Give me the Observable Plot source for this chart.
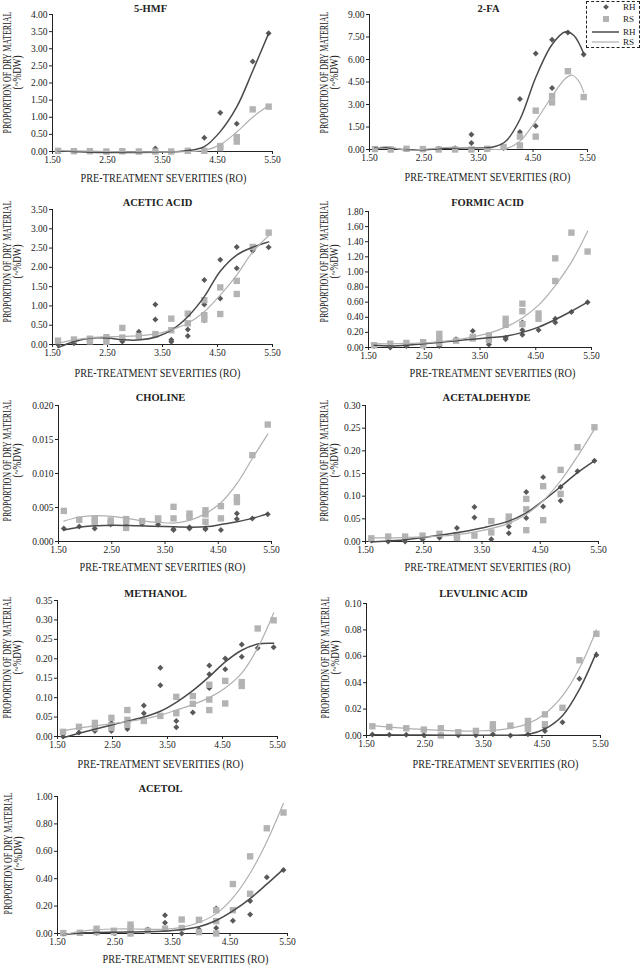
<!DOCTYPE html>
<html><head><meta charset="utf-8">
<script src="https://cdn.jsdelivr.net/npm/d3@7"></script>
<script src="https://cdn.jsdelivr.net/npm/@observablehq/plot@0.6"></script>
<style>
body{margin:0;background:#fff;font-family:"Liberation Serif",serif;}
#wrap{position:relative;width:640px;height:965px;overflow:hidden;}
.panel{position:absolute;}
#legend{position:absolute;left:586px;top:1px;width:54px;height:47px;border:1px dashed #222;box-sizing:border-box;background:#fff;}
</style></head><body><div id="wrap"></div>
<script>
// ---- data: [pre-treatment severity, proportion of dry material] ----
const xTicks = [1.5, 2.5, 3.5, 4.5, 5.5];
const legendLabels = ["RH", "RS", "RH", "RS"];
const titles = ["5-HMF","2-FA","ACETIC ACID","FORMIC ACID","CHOLINE","ACETALDEHYDE","METHANOL","LEVULINIC ACID","ACETOL"];
const xTitle = "PRE-TREATMENT SEVERITIES (RO)";
const yTitle1 = "PROPORTION OF DRY MATERIAL";
const yTitle2 = "(~%DW)";

const hmfRH = [[1.60,0.01],[1.89,0.00],[2.18,0.00],[2.48,0.00],[2.77,0.00],[3.07,0.01],[3.37,0.09],[3.66,0.00],[3.96,0.02],[4.26,0.40],[4.55,1.13],[4.85,0.81],[5.14,2.63],[5.43,3.45]];
const hmfRS = [[1.60,0.02],[1.89,0.01],[2.18,0.01],[2.48,0.00],[2.77,0.01],[3.07,0.00],[3.37,0.00],[3.66,0.00],[3.96,0.02],[4.26,0.02],[4.55,0.16],[4.55,0.10],[4.85,0.42],[4.85,0.29],[5.14,1.23],[5.43,1.31]];
const hmfRHfit = [[1.60,0.02],[2.2,-0.02],[2.8,-0.03],[3.4,-0.02],[3.8,0.0],[4.1,0.06],[4.26,0.14],[4.55,0.58],[4.85,1.3],[5.14,2.35],[5.43,3.45]];
const hmfRSfit = [[1.60,0.03],[2.5,0.0],[3.5,-0.01],[4.0,0.0],[4.26,0.03],[4.55,0.2],[4.85,0.57],[5.14,1.0],[5.43,1.34]];

const faRH = [[1.60,0.02],[1.89,0.00],[2.18,0.02],[2.48,0.00],[2.77,0.05],[3.07,0.08],[3.37,1.0],[3.37,0.44],[3.66,0.02],[3.96,0.1],[4.26,3.36],[4.26,1.17],[4.55,6.4],[4.55,1.56],[4.85,7.32],[4.85,4.1],[5.14,7.8],[5.43,6.33]];
const faRS = [[1.60,0.03],[1.89,0.0],[2.18,0.05],[2.48,0.03],[2.77,0.0],[3.07,0.0],[3.37,0.0],[3.66,0.05],[3.96,0.17],[4.26,0.86],[4.26,0.27],[4.55,2.59],[4.55,0.86],[4.85,3.56],[4.85,3.14],[5.14,5.22],[5.43,3.5]];
const faRHfit = [[1.60,0.1],[1.8,0.12],[2.1,0.0],[2.5,-0.02],[2.9,0.08],[3.3,0.12],[3.6,0.1],[3.8,0.2],[4.0,0.55],[4.26,2.0],[4.55,4.8],[4.85,7.0],[5.1,7.85],[5.25,7.6],[5.43,6.4]];
const faRSfit = [[1.60,0.05],[1.8,0.2],[2.1,0.0],[2.3,-0.05],[2.6,0.05],[3.0,0.15],[3.4,0.1],[3.8,0.0],[4.0,0.05],[4.26,0.55],[4.55,1.9],[4.85,3.55],[5.1,4.75],[5.22,4.95],[5.35,4.5],[5.43,3.8]];

const acRH = [[1.60,0.0],[1.89,0.03],[2.18,0.15],[2.48,0.13],[2.77,0.08],[3.07,0.33],[3.37,1.04],[3.37,0.65],[3.66,0.12],[3.66,0.07],[3.96,0.39],[3.96,0.22],[4.26,1.67],[4.26,1.04],[4.26,0.63],[4.55,2.2],[4.55,1.19],[4.85,2.53],[4.85,1.98],[5.14,2.43],[5.43,2.52]];
const acRS = [[1.60,0.10],[1.89,0.13],[2.18,0.15],[2.18,0.08],[2.48,0.19],[2.48,0.07],[2.77,0.43],[2.77,0.18],[3.07,0.22],[3.37,0.27],[3.66,0.67],[3.66,0.37],[3.96,0.80],[3.96,0.55],[4.26,1.15],[4.26,0.76],[4.26,0.65],[4.55,1.48],[4.55,0.79],[4.85,1.65],[4.85,1.31],[5.14,2.53],[5.43,2.9]];
const acRHfit = [[1.60,-0.08],[1.9,0.08],[2.2,0.17],[2.5,0.17],[2.8,0.12],[3.1,0.12],[3.4,0.2],[3.66,0.37],[3.96,0.72],[4.26,1.24],[4.55,1.9],[4.85,2.32],[5.14,2.52],[5.43,2.66]];
const acRSfit = [[1.60,0.03],[1.9,0.12],[2.2,0.18],[2.5,0.2],[2.8,0.21],[3.1,0.23],[3.4,0.28],[3.66,0.38],[3.96,0.55],[4.26,0.85],[4.55,1.28],[4.85,1.8],[5.14,2.4],[5.43,2.82]];

const fmRH = [[1.60,0.02],[1.89,0.0],[2.18,0.02],[2.48,0.03],[2.77,0.02],[3.07,0.11],[3.37,0.22],[3.66,0.04],[3.96,0.13],[3.96,0.11],[4.26,0.33],[4.26,0.23],[4.26,0.17],[4.55,0.23],[4.85,0.38],[4.85,0.33],[5.14,0.47],[5.43,0.60]];
const fmRS = [[1.60,0.03],[1.89,0.05],[2.18,0.06],[2.48,0.07],[2.48,0.03],[2.77,0.18],[2.77,0.10],[2.77,0.06],[3.07,0.09],[3.37,0.14],[3.37,0.12],[3.66,0.16],[3.66,0.10],[3.96,0.38],[3.96,0.30],[4.26,0.58],[4.26,0.48],[4.26,0.31],[4.55,0.45],[4.55,0.38],[4.85,1.18],[4.85,0.88],[5.14,1.52],[5.43,1.27]];
const fmRHfit = [[1.60,0.03],[1.9,0.02],[2.2,0.03],[2.5,0.05],[2.8,0.07],[3.07,0.09],[3.37,0.11],[3.66,0.13],[3.96,0.15],[4.26,0.2],[4.55,0.27],[4.85,0.37],[5.14,0.48],[5.43,0.6]];
const fmRSfit = [[1.60,0.05],[2.0,0.05],[2.5,0.06],[2.8,0.08],[3.07,0.1],[3.37,0.14],[3.66,0.19],[3.96,0.27],[4.26,0.39],[4.55,0.56],[4.85,0.82],[5.14,1.13],[5.43,1.54]];

const chRH = [[1.60,0.0019],[1.89,0.0022],[2.18,0.0019],[2.48,0.0025],[2.77,0.0024],[3.07,0.0026],[3.37,0.0025],[3.66,0.0018],[3.66,0.0017],[3.96,0.0021],[3.96,0.0019],[4.26,0.0018],[4.26,0.0019],[4.55,0.0017],[4.85,0.0041],[4.85,0.0033],[5.14,0.0034],[5.43,0.0040]];
const chRS = [[1.60,0.0045],[1.89,0.0032],[2.18,0.0033],[2.18,0.0029],[2.48,0.0031],[2.48,0.0027],[2.77,0.0033],[2.77,0.0030],[2.77,0.0020],[3.07,0.0030],[3.37,0.0034],[3.37,0.0032],[3.66,0.0051],[3.66,0.0034],[3.96,0.0041],[3.96,0.0036],[4.26,0.0046],[4.26,0.0040],[4.26,0.0029],[4.55,0.0052],[4.55,0.0034],[4.85,0.0065],[4.85,0.0058],[5.14,0.0127],[5.43,0.0172]];
const chRHfit = [[1.60,0.0017],[2.0,0.0022],[2.5,0.0024],[3.0,0.0023],[3.5,0.0022],[4.0,0.0021],[4.3,0.0022],[4.55,0.0025],[4.85,0.0029],[5.14,0.0034],[5.43,0.0041]];
const chRSfit = [[1.60,0.0030],[1.9,0.0036],[2.2,0.0038],[2.5,0.0037],[2.8,0.0034],[3.1,0.0030],[3.4,0.0028],[3.66,0.0027],[3.96,0.0031],[4.26,0.0041],[4.55,0.0057],[4.85,0.0085],[5.14,0.0122],[5.43,0.0158]];

const adRH = [[1.60,0.002],[1.89,0.0],[2.18,0.0],[2.48,0.005],[2.77,0.008],[3.07,0.030],[3.37,0.076],[3.37,0.053],[3.66,0.005],[3.96,0.033],[3.96,0.018],[4.26,0.109],[4.26,0.052],[4.55,0.142],[4.55,0.077],[4.85,0.120],[4.85,0.090],[5.14,0.155],[5.43,0.178]];
const adRS = [[1.60,0.007],[1.89,0.011],[2.18,0.011],[2.48,0.013],[2.77,0.017],[3.07,0.014],[3.07,0.008],[3.37,0.013],[3.66,0.045],[3.66,0.020],[3.96,0.055],[3.96,0.045],[4.26,0.094],[4.26,0.071],[4.26,0.025],[4.55,0.122],[4.55,0.047],[4.85,0.158],[4.85,0.105],[5.14,0.208],[5.43,0.252]];
const adRHfit = [[1.60,-0.001],[2.0,0.002],[2.5,0.009],[3.0,0.018],[3.5,0.03],[3.96,0.045],[4.26,0.063],[4.55,0.09],[4.85,0.121],[5.14,0.152],[5.43,0.178]];
const adRSfit = [[1.60,0.008],[2.0,0.008],[2.5,0.01],[3.0,0.014],[3.5,0.024],[3.96,0.04],[4.26,0.06],[4.55,0.09],[4.85,0.134],[5.14,0.188],[5.43,0.248]];

const meRH = [[1.60,0.0],[1.89,0.01],[2.18,0.02],[2.18,0.014],[2.48,0.035],[2.48,0.014],[2.77,0.035],[2.77,0.019],[3.07,0.080],[3.07,0.060],[3.37,0.177],[3.37,0.132],[3.66,0.040],[3.66,0.024],[3.96,0.062],[4.26,0.183],[4.26,0.160],[4.26,0.125],[4.55,0.201],[4.55,0.173],[4.85,0.237],[4.85,0.205],[5.14,0.228],[5.43,0.230]];
const meRS = [[1.60,0.012],[1.89,0.025],[2.18,0.035],[2.18,0.022],[2.48,0.048],[2.48,0.028],[2.48,0.022],[2.77,0.068],[2.77,0.043],[2.77,0.030],[3.07,0.040],[3.37,0.053],[3.66,0.102],[3.66,0.060],[3.96,0.104],[3.96,0.084],[4.26,0.133],[4.26,0.095],[4.26,0.068],[4.55,0.143],[4.55,0.085],[4.85,0.140],[4.85,0.130],[5.14,0.278],[5.43,0.299]];
const meRHfit = [[1.60,-0.003],[2.0,0.012],[2.5,0.03],[3.07,0.05],[3.37,0.065],[3.66,0.088],[3.96,0.118],[4.26,0.154],[4.55,0.192],[4.85,0.222],[5.14,0.238],[5.43,0.24]];
const meRSfit = [[1.60,0.015],[2.0,0.024],[2.5,0.033],[3.07,0.045],[3.37,0.055],[3.66,0.068],[3.96,0.082],[4.26,0.1],[4.55,0.125],[4.85,0.163],[5.14,0.228],[5.43,0.318]];

const lvRH = [[1.60,0.0008],[1.89,0.0006],[2.18,0.0006],[2.48,0.0003],[2.77,0.0003],[3.07,0.0002],[3.37,0.0002],[3.66,0.001],[3.96,0.0],[4.26,0.001],[4.55,0.006],[4.55,0.0035],[4.85,0.010],[5.14,0.043],[5.43,0.061]];
const lvRS = [[1.60,0.007],[1.89,0.0065],[2.18,0.0055],[2.48,0.0045],[2.77,0.0055],[2.77,0.0],[3.07,0.0025],[3.37,0.0035],[3.66,0.0085],[3.66,0.005],[3.96,0.0075],[4.26,0.011],[4.26,0.007],[4.26,0.005],[4.55,0.016],[4.55,0.0085],[4.85,0.021],[5.14,0.057],[5.43,0.077]];
const lvRHfit = [[1.60,0.0005],[2.5,0.0003],[3.5,0.0002],[4.0,0.0002],[4.26,0.0008],[4.55,0.005],[4.85,0.015],[5.14,0.035],[5.43,0.063]];
const lvRSfit = [[1.60,0.0075],[2.0,0.006],[2.5,0.0045],[3.0,0.0035],[3.5,0.0036],[3.96,0.0055],[4.26,0.009],[4.55,0.0165],[4.85,0.03],[5.14,0.051],[5.43,0.08]];

const atRH = [[1.60,0.0],[1.89,0.005],[2.18,0.005],[2.48,0.005],[2.77,0.0],[3.07,0.03],[3.37,0.134],[3.37,0.078],[3.66,0.0],[3.96,0.03],[4.26,0.183],[4.26,0.04],[4.55,0.093],[4.85,0.237],[4.85,0.139],[5.14,0.41],[5.43,0.463]];
const atRS = [[1.60,0.003],[1.89,0.005],[2.18,0.035],[2.18,0.01],[2.48,0.02],[2.48,0.01],[2.77,0.065],[2.77,0.04],[2.77,0.0],[3.07,0.02],[3.37,0.035],[3.66,0.102],[3.66,0.04],[3.96,0.10],[3.96,0.01],[4.26,0.17],[4.26,0.09],[4.26,0.0],[4.55,0.361],[4.55,0.17],[4.85,0.563],[4.85,0.29],[5.14,0.768],[5.43,0.883]];
const atRHfit = [[1.60,-0.01],[2.0,0.005],[2.5,0.01],[3.0,0.012],[3.5,0.022],[3.96,0.05],[4.26,0.095],[4.55,0.165],[4.85,0.255],[5.14,0.36],[5.43,0.47]];
const atRSfit = [[1.60,-0.01],[1.9,0.015],[2.2,0.028],[2.5,0.033],[2.8,0.033],[3.1,0.03],[3.4,0.032],[3.66,0.045],[3.96,0.08],[4.26,0.145],[4.55,0.26],[4.85,0.44],[5.14,0.67],[5.43,0.95]];

// y-axis extents / steps / decimals per panel
const yMaxes = [4.0, 9.0, 3.5, 1.8, 0.02, 0.30, 0.35, 0.10, 1.0];
const ySteps = [0.5, 1.5, 0.5, 0.2, 0.005, 0.05, 0.05, 0.02, 0.2];
const yDecimals = [2, 2, 2, 2, 3, 2, 2, 2, 2];

// ---- layout (page px) ----
const layout = [
  {left:0,  top:0,   h:190, xL:52,  xR:272, yT:14,  yB:151, t:[150,8],   xt:[163,178], yl:[7,17,72]},
  {left:320,top:0,   h:190, xL:369, xR:587, yT:14,  yB:149, t:[488,8],   xt:[487,177], yl:[324,334,72]},
  {left:0,  top:190, h:190, xL:52,  xR:272, yT:209, yB:344, t:[157,202], xt:[157,373], yl:[7,17,261]},
  {left:320,top:190, h:190, xL:368, xR:591, yT:211, yB:347, t:[487,202], xt:[492,373], yl:[324,334,261]},
  {left:0,  top:380, h:190, xL:58,  xR:271, yT:405, yB:541, t:[160,397], xt:[162,567], yl:[7,17,460]},
  {left:320,top:380, h:190, xL:365, xR:598, yT:405, yB:541, t:[486,397], xt:[487,567], yl:[324,334,460]},
  {left:0,  top:570, h:190, xL:57,  xR:277, yT:600, yB:736, t:[155,593], xt:[160,764], yl:[7,17,657]},
  {left:320,top:570, h:190, xL:366, xR:600, yT:603, yB:735, t:[483,593], xt:[495,764], yl:[325,335,657]},
  {left:0,  top:760, h:205, xL:57,  xR:287, yT:796, yB:933, t:[160,788], xt:[185,959], yl:[8,18,853]}
];
const series = [
  [hmfRH, hmfRS, hmfRHfit, hmfRSfit],
  [faRH, faRS, faRHfit, faRSfit],
  [acRH, acRS, acRHfit, acRSfit],
  [fmRH, fmRS, fmRHfit, fmRSfit],
  [chRH, chRS, chRHfit, chRSfit],
  [adRH, adRS, adRHfit, adRSfit],
  [meRH, meRS, meRHfit, meRSfit],
  [lvRH, lvRS, lvRHfit, lvRSfit],
  [atRH, atRS, atRHfit, atRSfit]
];

const DARK = "#595959", LIGHT = "#b3b3b3", LDARK = "#4a4a4a", LLIGHT = "#b0b0b0", INK = "#222";
const squeezeTo = new Map([[xTitle, 166], [yTitle1, 122], [yTitle2, 34]]);
const wrap = document.getElementById("wrap");
const X = d => d[0], Y = d => d[1];

// squeeze the axis titles along their own direction to the lengths they have in the figure
function squeeze(svg) {
  svg.querySelectorAll("text").forEach(node => {
    const target = squeezeTo.get(node.textContent);
    if (!target) return;
    const bb = node.getBBox();
    if (!bb.width) return;
    const s = target / bb.width;
    const cx = bb.x + bb.width / 2, cy = bb.y + bb.height / 2;
    const t = node.getAttribute("transform") || "";
    node.setAttribute("transform", `${t} translate(${cx},${cy}) scale(${s},1) translate(${-cx},${-cy})`);
  });
}

titles.forEach((title, i) => {
  const L = layout[i];
  const [rh, rs, rhFit, rsFit] = series[i];
  const yMax = yMaxes[i], step = ySteps[i], dec = yDecimals[i];
  const yt = d3.range(0, Math.round(yMax / step) + 1).map(k => +(k * step).toFixed(6));
  const ml = L.xL - L.left, mr = L.left + 320 - L.xR, mt = L.yT - L.top, mb = L.top + L.h - L.yB;
  const at = (px, py) => ({frameAnchor: "top-left", dx: px - L.xL, dy: py - L.yT, textAnchor: "middle", lineAnchor: "middle"});
  const chart = Plot.plot({
    width: 320, height: L.h,
    marginLeft: ml, marginRight: mr, marginTop: mt, marginBottom: mb,
    style: {fontFamily: "'Liberation Serif', serif", fontSize: "9.5px", color: INK, background: "transparent", overflow: "visible"},
    x: {domain: [1.5, 5.5], ticks: xTicks, tickFormat: d => d.toFixed(2), tickSize: 3, tickPadding: 2, label: null},
    y: {domain: [0, yMax], ticks: yt, tickFormat: d => d.toFixed(dec), tickSize: 3, tickPadding: 2, label: null},
    marks: [
      Plot.ruleY([0], {stroke: INK, strokeWidth: 1}),
      Plot.ruleX([1.5], {stroke: INK, strokeWidth: 1}),
      Plot.dot(rh, {x: X, y: Y, symbol: "diamond2", r: 2.7, fill: DARK, stroke: "none"}),
      Plot.dot(rs, {x: X, y: Y, symbol: "square", r: 3.6, fill: LIGHT, stroke: "none"}),
      Plot.line(rhFit, {x: X, y: Y, curve: "catmull-rom", stroke: LDARK, strokeWidth: 1.5}),
      Plot.line(rsFit, {x: X, y: Y, curve: "catmull-rom", stroke: LLIGHT, strokeWidth: 1.2}),
      Plot.text([title], {text: d => d, ...at(L.t[0], L.t[1]), fontWeight: "bold", fontSize: 10.5, fill: INK}),
      Plot.text([xTitle], {text: d => d, ...at(L.xt[0], L.xt[1]), fontSize: 12, fill: INK}),
      Plot.text([yTitle1], {text: d => d, ...at(L.yl[0], L.yl[2]), rotate: -90, fontSize: 12, fill: INK}),
      Plot.text([yTitle2], {text: d => d, ...at(L.yl[1], L.yl[2]), rotate: -90, fontSize: 12, fill: INK})
    ]
  });
  chart.classList.add("panel");
  chart.style.left = L.left + "px";
  chart.style.top = L.top + "px";
  chart.style.position = "absolute";
  wrap.appendChild(chart);
  squeeze(chart);
});

// legend
const leg = document.createElement("div");
leg.id = "legend";
wrap.appendChild(leg);
const lsvg = d3.select(leg).append("svg").attr("width", 52).attr("height", 45).style("display", "block").style("overflow", "visible");
const rowsY = [5, 17, 30, 40];
lsvg.append("path").attr("transform", `translate(19,${rowsY[0]})`).attr("d", d3.symbol(d3.symbolDiamond2, 21)()).attr("fill", DARK);
lsvg.append("path").attr("transform", `translate(19,${rowsY[1]})`).attr("d", d3.symbol(d3.symbolSquare, 36)()).attr("fill", LIGHT);
lsvg.append("line").attr("x1", 5).attr("x2", 32).attr("y1", rowsY[2]).attr("y2", rowsY[2]).attr("stroke", LDARK).attr("stroke-width", 1.5);
lsvg.append("line").attr("x1", 5).attr("x2", 32).attr("y1", rowsY[3]).attr("y2", rowsY[3]).attr("stroke", LLIGHT).attr("stroke-width", 1.2);
legendLabels.forEach((t, k) => {
  lsvg.append("text").attr("x", 36).attr("y", rowsY[k]).attr("dy", "0.35em")
    .attr("font-family", "'Liberation Serif', serif").attr("font-size", 9).attr("fill", INK).text(t);
});
</script>
</body></html>
